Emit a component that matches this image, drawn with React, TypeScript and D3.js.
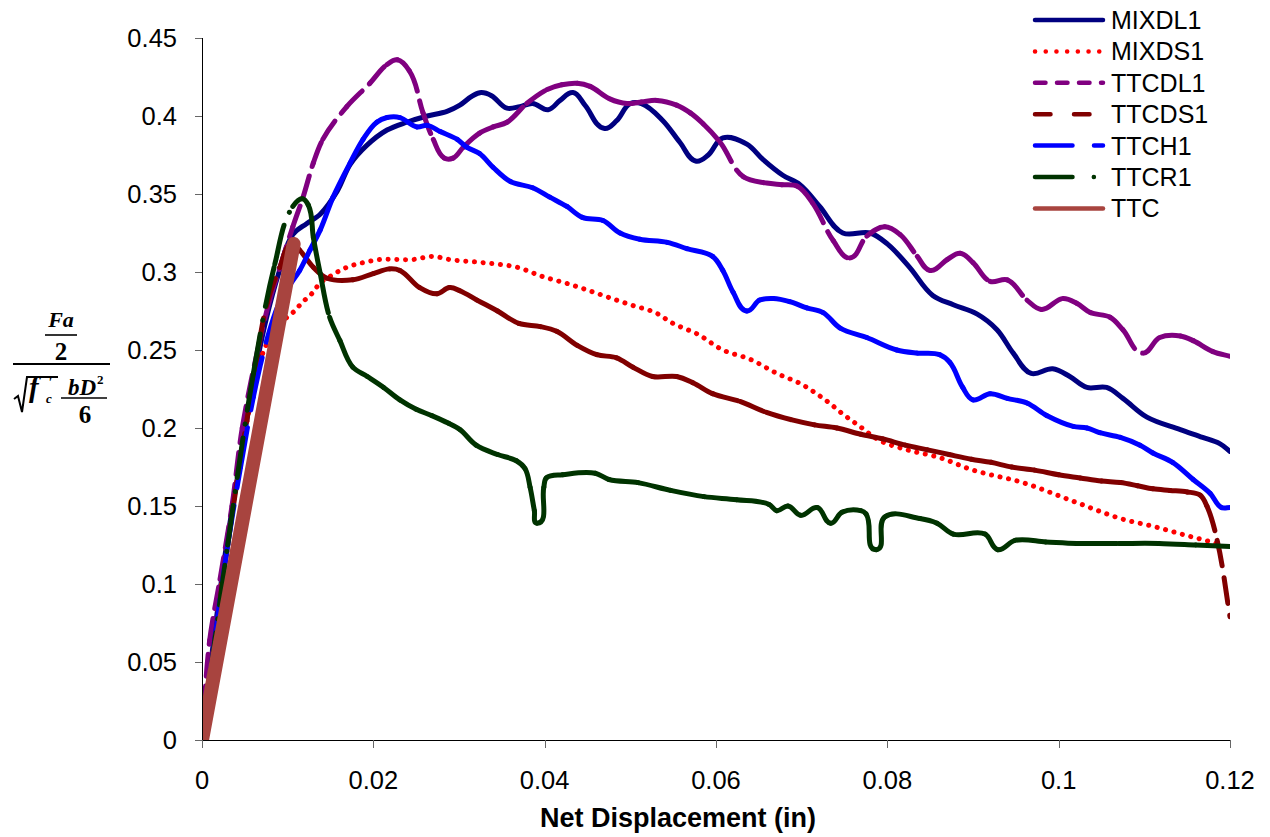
import React from "react";
import * as d3 from "d3";

type Pt = [number, number];

const X_TICKS = [0, 0.02, 0.04, 0.06, 0.08, 0.1, 0.12];
const X_LABELS = ["0", "0.02", "0.04", "0.06", "0.08", "0.1", "0.12"];
const Y_TICKS = [0, 0.05, 0.1, 0.15, 0.2, 0.25, 0.3, 0.35, 0.4, 0.45];
const Y_LABELS = ["0", "0.05", "0.1", "0.15", "0.2", "0.25", "0.3", "0.35", "0.4", "0.45"];

const MIXDL1: Pt[] = [
  [0, 0], [0.0015, 0.07], [0.003, 0.13], [0.0045, 0.18], [0.006, 0.23], [0.0075, 0.27], [0.009, 0.3],
  [0.0106, 0.324], [0.0122, 0.331], [0.0138, 0.337], [0.0158, 0.352], [0.0173, 0.369], [0.0192, 0.381],
  [0.0216, 0.391], [0.0239, 0.396], [0.0263, 0.4], [0.0286, 0.403], [0.0301, 0.407], [0.0316, 0.413],
  [0.0326, 0.415], [0.0338, 0.413], [0.0356, 0.405], [0.0371, 0.406], [0.0386, 0.408], [0.0404, 0.404],
  [0.0418, 0.41], [0.0433, 0.415], [0.0447, 0.407], [0.047, 0.392], [0.0484, 0.397], [0.05, 0.408],
  [0.0513, 0.408], [0.0538, 0.397], [0.0558, 0.383], [0.0577, 0.371], [0.0591, 0.375], [0.0608, 0.386],
  [0.0636, 0.382], [0.0655, 0.372], [0.0678, 0.362], [0.0698, 0.356], [0.0721, 0.342], [0.0748, 0.325],
  [0.078, 0.325], [0.08, 0.318], [0.0826, 0.303], [0.0853, 0.285], [0.0877, 0.279], [0.0905, 0.273],
  [0.0928, 0.263], [0.0947, 0.248], [0.0968, 0.235], [0.0993, 0.238], [0.1013, 0.233], [0.1033, 0.226],
  [0.1056, 0.226], [0.1075, 0.219], [0.1103, 0.207], [0.1142, 0.199], [0.1168, 0.194], [0.1188, 0.19],
  [0.12, 0.185],
];

const MIXDS1: Pt[] = [
  [0, 0], [0.0015, 0.068], [0.003, 0.128], [0.0045, 0.18], [0.006, 0.225], [0.0071, 0.248], [0.0085, 0.263],
  [0.0095, 0.269], [0.0106, 0.274], [0.0118, 0.281], [0.0128, 0.286], [0.0138, 0.293], [0.0149, 0.297],
  [0.0169, 0.303], [0.0188, 0.306], [0.0208, 0.308], [0.0246, 0.308], [0.027, 0.31], [0.0289, 0.308],
  [0.0328, 0.306], [0.0368, 0.303], [0.0398, 0.297], [0.043, 0.292], [0.0468, 0.285], [0.05, 0.279],
  [0.0529, 0.274], [0.055, 0.267], [0.0579, 0.26], [0.0608, 0.25], [0.064, 0.244], [0.0671, 0.235],
  [0.07, 0.228], [0.073, 0.217], [0.0748, 0.209], [0.0768, 0.201], [0.0791, 0.192], [0.0823, 0.186],
  [0.0861, 0.181], [0.09, 0.173], [0.0958, 0.165], [0.1022, 0.152], [0.1072, 0.142], [0.111, 0.137],
  [0.115, 0.131], [0.1171, 0.128], [0.119, 0.125],
];

const TTCDL1: Pt[] = [
  [0, 0], [0.0009, 0.064], [0.0021, 0.103], [0.0035, 0.15], [0.0047, 0.2], [0.0065, 0.25], [0.0079, 0.282],
  [0.0091, 0.303], [0.0106, 0.329], [0.0118, 0.348], [0.013, 0.37], [0.0141, 0.385], [0.0169, 0.406],
  [0.0196, 0.421], [0.0216, 0.433], [0.0228, 0.436], [0.0242, 0.429], [0.0258, 0.402], [0.027, 0.385],
  [0.0283, 0.373], [0.0293, 0.373], [0.0305, 0.38], [0.0324, 0.389], [0.034, 0.393], [0.0356, 0.396],
  [0.0379, 0.408], [0.0403, 0.417], [0.042, 0.42], [0.0438, 0.421], [0.0453, 0.419], [0.0476, 0.411],
  [0.0496, 0.408], [0.0513, 0.409], [0.0531, 0.41], [0.0554, 0.407], [0.057, 0.402], [0.0585, 0.395],
  [0.0605, 0.383], [0.0632, 0.361], [0.0659, 0.357], [0.0677, 0.356], [0.0695, 0.355], [0.0713, 0.344],
  [0.0737, 0.32], [0.0756, 0.309], [0.0776, 0.323], [0.0797, 0.329], [0.0815, 0.324], [0.0835, 0.31],
  [0.085, 0.301], [0.087, 0.308], [0.0885, 0.312], [0.09, 0.306], [0.092, 0.294], [0.094, 0.295],
  [0.0963, 0.282], [0.098, 0.276], [0.1005, 0.283], [0.1021, 0.28], [0.1037, 0.274], [0.106, 0.271],
  [0.1075, 0.263], [0.1098, 0.248], [0.1118, 0.258], [0.1142, 0.259], [0.1157, 0.256], [0.118, 0.249],
  [0.12, 0.246],
];

const TTCDS1: Pt[] = [
  [0, 0], [0.0015, 0.065], [0.003, 0.125], [0.0045, 0.18], [0.006, 0.23], [0.0076, 0.28], [0.0091, 0.303],
  [0.0106, 0.318], [0.0114, 0.314], [0.013, 0.303], [0.0146, 0.296], [0.0176, 0.295], [0.02, 0.299],
  [0.0219, 0.302], [0.0231, 0.301], [0.0254, 0.29], [0.0274, 0.286], [0.0289, 0.29], [0.0301, 0.288],
  [0.0321, 0.282], [0.0345, 0.275], [0.037, 0.267], [0.0395, 0.265], [0.0414, 0.262], [0.0438, 0.253],
  [0.0461, 0.247], [0.0484, 0.245], [0.0503, 0.239], [0.0526, 0.233], [0.0554, 0.233], [0.0573, 0.229],
  [0.0596, 0.222], [0.0628, 0.217], [0.0659, 0.21], [0.069, 0.205], [0.0715, 0.202], [0.0741, 0.2],
  [0.0769, 0.196], [0.0795, 0.193], [0.0821, 0.189], [0.0847, 0.186], [0.0872, 0.183], [0.0898, 0.18],
  [0.0921, 0.178], [0.0945, 0.175], [0.0972, 0.173], [0.1, 0.17], [0.1025, 0.168], [0.105, 0.166],
  [0.1072, 0.165], [0.1092, 0.163], [0.111, 0.161], [0.113, 0.16], [0.115, 0.159], [0.1165, 0.157],
  [0.1173, 0.15], [0.1185, 0.128], [0.12, 0.079],
];

const TTCH1: Pt[] = [
  [0, 0], [0.0015, 0.065], [0.003, 0.125], [0.0045, 0.175], [0.006, 0.22], [0.0075, 0.255], [0.009, 0.28],
  [0.0103, 0.292], [0.0114, 0.301], [0.0126, 0.314], [0.0138, 0.327], [0.0153, 0.348], [0.0173, 0.37],
  [0.0188, 0.385], [0.0204, 0.396], [0.0216, 0.399], [0.0231, 0.399], [0.0251, 0.393], [0.0263, 0.394],
  [0.0278, 0.39], [0.0298, 0.385], [0.0309, 0.38], [0.0324, 0.376], [0.034, 0.367], [0.036, 0.358],
  [0.0386, 0.354], [0.0406, 0.348], [0.0426, 0.342], [0.0444, 0.335], [0.0468, 0.333], [0.0488, 0.325],
  [0.0511, 0.321], [0.0543, 0.319], [0.0566, 0.315], [0.0596, 0.31], [0.0608, 0.301], [0.062, 0.287],
  [0.0636, 0.275], [0.0651, 0.282], [0.0667, 0.283], [0.0686, 0.281], [0.0706, 0.277], [0.0725, 0.274],
  [0.0745, 0.264], [0.0776, 0.258], [0.0811, 0.25], [0.0835, 0.248], [0.0861, 0.247], [0.0873, 0.242],
  [0.0888, 0.226], [0.09, 0.218], [0.092, 0.222], [0.094, 0.219], [0.0963, 0.216], [0.0986, 0.208],
  [0.1017, 0.201], [0.1033, 0.2], [0.1048, 0.197], [0.1072, 0.194], [0.1095, 0.189], [0.111, 0.184],
  [0.1133, 0.178], [0.1157, 0.167], [0.1177, 0.158], [0.119, 0.149], [0.12, 0.149],
];

const TTCR1: Pt[] = [
  [0, 0], [0.003, 0.125], [0.006, 0.235], [0.0085, 0.305], [0.0106, 0.342], [0.0117, 0.347], [0.0124, 0.343],
  [0.013, 0.322], [0.0138, 0.299], [0.0149, 0.271], [0.0161, 0.256], [0.0176, 0.239], [0.0193, 0.233],
  [0.0212, 0.226], [0.0231, 0.218], [0.025, 0.212], [0.0268, 0.208], [0.0288, 0.203], [0.0301, 0.199],
  [0.032, 0.189], [0.0345, 0.183], [0.0367, 0.179], [0.0377, 0.174], [0.0383, 0.162], [0.0388, 0.147],
  [0.0391, 0.139], [0.0399, 0.162], [0.0402, 0.168], [0.0421, 0.17], [0.0459, 0.171], [0.0475, 0.167],
  [0.0509, 0.165], [0.0547, 0.16], [0.0586, 0.156], [0.0624, 0.154], [0.0662, 0.151], [0.0671, 0.147],
  [0.0684, 0.15], [0.0699, 0.144], [0.0718, 0.149], [0.0734, 0.139], [0.0747, 0.146], [0.0769, 0.147],
  [0.0775, 0.145], [0.0787, 0.122], [0.0797, 0.143], [0.0838, 0.142], [0.0858, 0.139], [0.0877, 0.132],
  [0.0914, 0.132], [0.0929, 0.122], [0.0949, 0.128], [0.0985, 0.127], [0.1021, 0.126], [0.107, 0.126],
  [0.1117, 0.126], [0.116, 0.125], [0.12, 0.124],
];

const TTC: Pt[] = [[0, 0], [0.0107, 0.318]];

const W = 1270;
const H = 837;
const M = { left: 202, right: 1230, top: 38, bottom: 740 };

const x = d3.scaleLinear().domain([0, 0.12]).range([M.left, M.right]);
const y = d3.scaleLinear().domain([0, 0.45]).range([M.bottom, M.top]);

type Seg = { p1: number[]; c1: number[]; c2: number[]; p2: number[] };

function unit(v: number[]) {
  const l = Math.hypot(v[0], v[1]);
  return l > 1e-9 ? [v[0] / l, v[1] / l] : [0, 0];
}

function tangent(a: number[], b: number[], c: number[]) {
  const d1 = unit([b[0] - a[0], b[1] - a[1]]);
  const d2 = unit([c[0] - b[0], c[1] - b[1]]);
  const t = unit([d1[0] + d2[0], d1[1] + d2[1]]);
  return t[0] === 0 && t[1] === 0 ? d2 : t;
}

function segments(data: Pt[]): Seg[] {
  const P = data.map(([a, b]) => [x(a), y(b)]);
  const n = P.length;
  const T = P.map((p, i) => {
    if (n < 3) return unit([P[n - 1][0] - P[0][0], P[n - 1][1] - P[0][1]]);
    if (i === 0) return unit([P[1][0] - p[0], P[1][1] - p[1]]);
    if (i === n - 1) return unit([p[0] - P[n - 2][0], p[1] - P[n - 2][1]]);
    return tangent(P[i - 1], p, P[i + 1]);
  });
  const out: Seg[] = [];
  for (let i = 0; i < n - 1; i++) {
    const p1 = P[i];
    const p2 = P[i + 1];
    const L = Math.hypot(p2[0] - p1[0], p2[1] - p1[1]) / 3;
    out.push({
      p1,
      p2,
      c1: [p1[0] + T[i][0] * L, p1[1] + T[i][1] * L],
      c2: [p2[0] - T[i + 1][0] * L, p2[1] - T[i + 1][1] * L],
    });
  }
  return out;
}

const f = (v: number[]) => `${v[0].toFixed(2)},${v[1].toFixed(2)}`;
const segPath = (s: Seg) => `M${f(s.p1)}C${f(s.c1)} ${f(s.c2)} ${f(s.p2)}`;
const fullPath = (segs: Seg[]) =>
  segs.length ? `M${f(segs[0].p1)}` + segs.map((s) => `C${f(s.c1)} ${f(s.c2)} ${f(s.p2)}`).join("") : "";

type S = {
  name: string;
  data: Pt[];
  color: string;
  width: number;
  dash: string | null;
  perSeg: boolean;
  legendDash: string | null;
  legendWidth: number;
};

const SERIES: S[] = [
  { name: "MIXDL1", data: MIXDL1, color: "#000080", width: 5, dash: null, perSeg: false, legendDash: null, legendWidth: 4.5 },
  { name: "MIXDS1", data: MIXDS1, color: "#FF0000", width: 5, dash: "0.1,8.6", perSeg: false, legendDash: "0.1,10.6", legendWidth: 4.5 },
  { name: "TTCDL1", data: TTCDL1, color: "#800080", width: 5, dash: "22,10", perSeg: true, legendDash: "10.5,11.5", legendWidth: 4.5 },
  { name: "TTCDS1", data: TTCDS1, color: "#800000", width: 5, dash: "26,12", perSeg: true, legendDash: "15.5,23.5", legendWidth: 4.5 },
  { name: "TTCH1", data: TTCH1, color: "#0000FF", width: 5, dash: "40,18", perSeg: true, legendDash: "37.5,21.5", legendWidth: 4.5 },
  { name: "TTCR1", data: TTCR1, color: "#003300", width: 5, dash: "40,14,0.1,14", perSeg: true, legendDash: "37.5,21.3,0.1,40", legendWidth: 4.5 },
  { name: "TTC", data: TTC, color: "#A8443F", width: 14, dash: null, perSeg: false, legendDash: null, legendWidth: 4.5 },
];

const FONT = "'Liberation Sans', Arial, Helvetica, sans-serif";
const SERIF = "'Liberation Serif', 'Times New Roman', serif";

export default function App() {
  return (
    <svg
      width={W}
      height={H}
      viewBox={`0 0 ${W} ${H}`}
      style={{ position: "absolute", left: 0, top: 0, background: "#fff" }}
    >
      <defs>
        <clipPath id="plot">
          <rect x={M.left} y={M.top - 10} width={M.right - M.left} height={M.bottom - M.top + 10} />
        </clipPath>
      </defs>
      <rect x={0} y={0} width={W} height={H} fill="#fff" />

      {/* series */}
      <g clipPath="url(#plot)" fill="none" strokeLinecap="round" strokeLinejoin="round">
        {SERIES.map((s) => {
          const segs = segments(s.data);
          if (s.perSeg) {
            return (
              <g key={s.name} stroke={s.color} strokeWidth={s.width} strokeDasharray={s.dash ?? undefined}>
                {segs.map((sg, i) => (
                  <path key={i} d={segPath(sg)} />
                ))}
              </g>
            );
          }
          return (
            <path
              key={s.name}
              d={fullPath(segs)}
              stroke={s.color}
              strokeWidth={s.width}
              strokeDasharray={s.dash ?? undefined}
            />
          );
        })}
      </g>

      {/* axes */}
      <g stroke="#000" strokeWidth={1} shapeRendering="crispEdges">
        <line x1={M.left} x2={M.left} y1={M.top} y2={M.bottom} />
        <line x1={M.left} x2={M.right} y1={M.bottom} y2={M.bottom} />
        {Y_TICKS.map((t) => (
          <line key={"yt" + t} x1={M.left - 7} x2={M.left} y1={Math.round(y(t))} y2={Math.round(y(t))} stroke="#666" />
        ))}
        {X_TICKS.map((t) => (
          <line key={"xt" + t} x1={Math.round(x(t))} x2={Math.round(x(t))} y1={M.bottom} y2={M.bottom + 8} stroke="#666" />
        ))}
      </g>
      <g fontFamily={FONT} fontSize={25.5} fill="#000">
        {Y_TICKS.map((t, i) => (
          <text key={"yl" + t} x={177} y={y(t) + 9} textAnchor="end">
            {Y_LABELS[i]}
          </text>
        ))}
        {X_TICKS.map((t, i) => (
          <text key={"xl" + t} x={x(t)} y={789} textAnchor="middle">
            {X_LABELS[i]}
          </text>
        ))}
        <text x={678} y={827} textAnchor="middle" fontWeight="bold" fontSize={27}>
          Net Displacement (in)
        </text>
      </g>

      {/* y-axis formula label */}
      <g fontFamily={SERIF} fontWeight="bold" fill="#000">
        <text x={61} y={327} textAnchor="middle" fontSize={22} fontStyle="italic">Fa</text>
        <line x1={45} x2={77} y1={335} y2={335} stroke="#000" strokeWidth={1.6} />
        <text x={61} y={360} textAnchor="middle" fontSize={25}>2</text>
        <line x1={13} x2={110} y1={364} y2={364} stroke="#000" strokeWidth={2} />
        <polyline points="14,399 18,396 22,412 27,377 58,377" fill="none" stroke="#000" strokeWidth={2} />
        <text x={29} y={397} fontSize={29} fontStyle="italic">f</text>
        <text x={48} y={386} fontSize={13} fontStyle="italic">'</text>
        <text x={46} y={403} fontSize={13} fontStyle="italic">c</text>
        <text x={82} y={395} textAnchor="middle" fontSize={23} fontStyle="italic">bD</text>
        <text x={97} y={384} fontSize={13}>2</text>
        <line x1={61} x2={107} y1={398} y2={398} stroke="#000" strokeWidth={1.6} />
        <text x={85} y={423} textAnchor="middle" fontSize={25}>6</text>
      </g>

      {/* legend */}
      <g fontFamily={FONT} fontSize={25} fill="#000">
        {SERIES.map((s, i) => {
          const cy = 20 + i * 31.4;
          return (
            <g key={"lg" + s.name}>
              <line
                x1={1035}
                x2={1103}
                y1={cy}
                y2={cy}
                stroke={s.color}
                strokeWidth={s.legendWidth}
                strokeLinecap="round"
                strokeDasharray={s.legendDash ?? undefined}
              />
              <text x={1111} y={cy + 9}>
                {s.name}
              </text>
            </g>
          );
        })}
      </g>
    </svg>
  );
}
